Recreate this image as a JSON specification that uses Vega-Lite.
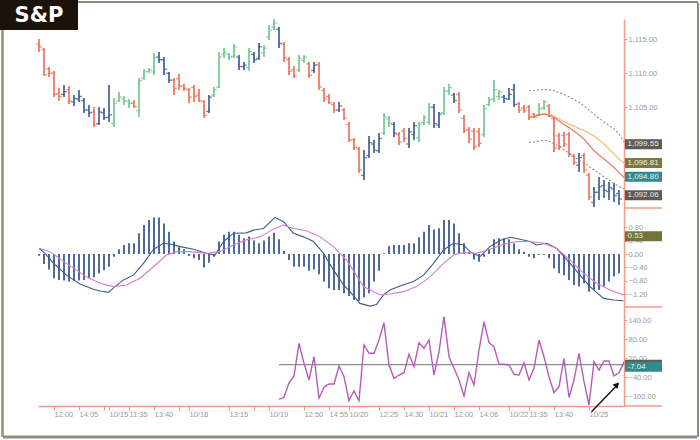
{
"$schema":"https://vega.github.io/schema/vega-lite/v6.json",
"padding":0,
"background":"white",
"spacing":0,
"bounds":"flush",
"resolve":{"scale":{"color":"independent","strokeDash":"independent"}},
"config":{"view":{"stroke":null},"concat":{"spacing":0},
"axis":{"labelFont":"Liberation Sans","labelFontSize":7.5,"labelColor":"#9a9a9a","domainColor":"#f29a88","domainWidth":1.5,"tickColor":"#f29a88","tickSize":3,"grid":false,"labelPadding":1,"labelOverlap":false,"labelBound":false},
"text":{"font":"Liberation Sans"}},
"datasets":{
"bars":[
{"i":0,"t":"R","o":1114.3,"h":1115.04,"l":1113.13,"c":1113.9},
{"i":1,"t":"R","o":1113.5,"h":1113.72,"l":1109.6,"c":1109.8},
{"i":2,"t":"R","o":1110.6,"h":1110.93,"l":1109.46,"c":1110.0},
{"i":3,"t":"R","o":1110.0,"h":1110.34,"l":1106.52,"c":1106.9},
{"i":4,"t":"R","o":1107.0,"h":1107.84,"l":1105.93,"c":1106.6},
{"i":5,"t":"B","o":1106.9,"h":1108.28,"l":1106.52,"c":1107.3},
{"i":6,"t":"R","o":1107.6,"h":1108.13,"l":1105.49,"c":1105.9},
{"i":7,"t":"B","o":1105.8,"h":1106.81,"l":1105.19,"c":1106.3},
{"i":8,"t":"B","o":1106.2,"h":1107.54,"l":1105.78,"c":1106.6},
{"i":9,"t":"B","o":1106.0,"h":1106.37,"l":1104.16,"c":1104.6},
{"i":10,"t":"B","o":1104.6,"h":1105.34,"l":1103.57,"c":1104.2},
{"i":11,"t":"R","o":1104.3,"h":1105.04,"l":1102.1,"c":1102.4},
{"i":12,"t":"B","o":1102.6,"h":1105.04,"l":1102.4,"c":1104.3},
{"i":13,"t":"B","o":1104.2,"h":1104.9,"l":1103.13,"c":1103.5},
{"i":14,"t":"B","o":1103.5,"h":1108.28,"l":1102.84,"c":1103.9},
{"i":15,"t":"G","o":1102.6,"h":1106.37,"l":1102.1,"c":1105.6},
{"i":16,"t":"G","o":1106.0,"h":1107.25,"l":1105.78,"c":1106.5},
{"i":17,"t":"G","o":1106.2,"h":1106.66,"l":1105.34,"c":1105.9},
{"i":18,"t":"G","o":1105.9,"h":1106.22,"l":1104.9,"c":1105.6},
{"i":19,"t":"R","o":1105.6,"h":1106.07,"l":1104.9,"c":1105.1},
{"i":20,"t":"G","o":1104.5,"h":1109.31,"l":1103.57,"c":1108.9},
{"i":21,"t":"G","o":1109.3,"h":1110.63,"l":1109.02,"c":1110.2},
{"i":22,"t":"G","o":1110.3,"h":1110.78,"l":1110.05,"c":1110.5},
{"i":23,"t":"G","o":1110.2,"h":1112.99,"l":1109.75,"c":1112.3},
{"i":24,"t":"B","o":1112.4,"h":1113.13,"l":1111.52,"c":1112.0},
{"i":25,"t":"B","o":1112.0,"h":1112.4,"l":1109.75,"c":1110.6},
{"i":26,"t":"B","o":1110.0,"h":1110.19,"l":1108.57,"c":1109.0},
{"i":27,"t":"R","o":1109.0,"h":1109.31,"l":1106.81,"c":1107.8},
{"i":28,"t":"R","o":1109.2,"h":1109.9,"l":1107.54,"c":1108.1},
{"i":29,"t":"R","o":1108.1,"h":1108.43,"l":1107.4,"c":1107.8},
{"i":30,"t":"R","o":1107.6,"h":1107.84,"l":1105.63,"c":1106.5},
{"i":31,"t":"R","o":1107.9,"h":1108.28,"l":1105.78,"c":1106.6},
{"i":32,"t":"R","o":1106.8,"h":1107.69,"l":1105.78,"c":1106.0},
{"i":33,"t":"R","o":1105.8,"h":1106.07,"l":1103.43,"c":1103.8},
{"i":34,"t":"B","o":1104.4,"h":1106.81,"l":1104.16,"c":1106.5},
{"i":35,"t":"G","o":1106.8,"h":1107.99,"l":1106.52,"c":1107.6},
{"i":36,"t":"G","o":1108.0,"h":1113.13,"l":1107.84,"c":1112.4},
{"i":37,"t":"G","o":1112.8,"h":1113.72,"l":1112.25,"c":1113.1},
{"i":38,"t":"G","o":1112.8,"h":1112.99,"l":1111.96,"c":1112.4},
{"i":39,"t":"G","o":1112.5,"h":1114.31,"l":1112.25,"c":1113.9},
{"i":40,"t":"B","o":1112.4,"h":1112.69,"l":1110.49,"c":1111.0},
{"i":41,"t":"B","o":1111.0,"h":1111.66,"l":1110.49,"c":1111.2},
{"i":42,"t":"G","o":1110.8,"h":1113.72,"l":1110.34,"c":1113.2},
{"i":43,"t":"B","o":1112.8,"h":1113.13,"l":1111.52,"c":1112.0},
{"i":44,"t":"B","o":1112.2,"h":1114.46,"l":1111.96,"c":1113.9},
{"i":45,"t":"G","o":1113.0,"h":1114.16,"l":1112.4,"c":1113.7},
{"i":46,"t":"G","o":1115.4,"h":1117.1,"l":1114.9,"c":1116.4},
{"i":47,"t":"G","o":1116.8,"h":1117.99,"l":1116.37,"c":1117.4},
{"i":48,"t":"B","o":1116.5,"h":1116.81,"l":1113.72,"c":1114.4},
{"i":49,"t":"R","o":1114.3,"h":1114.6,"l":1111.66,"c":1112.3},
{"i":50,"t":"R","o":1112.0,"h":1112.4,"l":1109.75,"c":1110.3},
{"i":51,"t":"R","o":1110.5,"h":1111.07,"l":1109.31,"c":1109.6},
{"i":52,"t":"G","o":1110.5,"h":1112.69,"l":1110.19,"c":1112.2},
{"i":53,"t":"G","o":1111.9,"h":1112.69,"l":1111.52,"c":1112.4},
{"i":54,"t":"R","o":1111.4,"h":1111.66,"l":1109.31,"c":1109.7},
{"i":55,"t":"B","o":1110.4,"h":1111.66,"l":1110.05,"c":1111.2},
{"i":56,"t":"R","o":1111.3,"h":1111.66,"l":1107.54,"c":1108.0},
{"i":57,"t":"R","o":1107.5,"h":1107.84,"l":1105.78,"c":1106.2},
{"i":58,"t":"R","o":1106.6,"h":1106.96,"l":1105.49,"c":1105.7},
{"i":59,"t":"R","o":1105.4,"h":1105.78,"l":1104.16,"c":1104.6},
{"i":60,"t":"B","o":1104.6,"h":1105.78,"l":1104.31,"c":1105.2},
{"i":61,"t":"R","o":1104.6,"h":1104.9,"l":1103.13,"c":1103.4},
{"i":62,"t":"R","o":1102.5,"h":1102.84,"l":1099.9,"c":1100.2},
{"i":63,"t":"R","o":1100.2,"h":1100.49,"l":1098.72,"c":1099.1},
{"i":64,"t":"R","o":1098.9,"h":1099.16,"l":1095.34,"c":1095.8},
{"i":65,"t":"B","o":1095.0,"h":1098.72,"l":1094.31,"c":1097.6},
{"i":66,"t":"B","o":1097.9,"h":1100.78,"l":1097.54,"c":1099.8},
{"i":67,"t":"B","o":1099.6,"h":1100.19,"l":1098.28,"c":1098.7},
{"i":68,"t":"B","o":1098.6,"h":1101.22,"l":1098.28,"c":1100.4},
{"i":69,"t":"G","o":1101.2,"h":1104.16,"l":1100.93,"c":1103.6},
{"i":70,"t":"G","o":1103.3,"h":1103.72,"l":1102.1,"c":1102.7},
{"i":71,"t":"B","o":1102.5,"h":1102.84,"l":1100.63,"c":1101.2},
{"i":72,"t":"R","o":1101.0,"h":1101.37,"l":1099.46,"c":1099.9},
{"i":73,"t":"R","o":1101.5,"h":1101.96,"l":1099.9,"c":1100.4},
{"i":74,"t":"B","o":1099.6,"h":1101.96,"l":1099.02,"c":1101.4},
{"i":75,"t":"B","o":1101.0,"h":1102.84,"l":1100.19,"c":1102.3},
{"i":76,"t":"G","o":1100.5,"h":1102.84,"l":1099.9,"c":1102.5},
{"i":77,"t":"G","o":1102.8,"h":1103.87,"l":1102.4,"c":1103.5},
{"i":78,"t":"G","o":1102.8,"h":1105.63,"l":1102.4,"c":1105.0},
{"i":79,"t":"B","o":1105.0,"h":1105.49,"l":1101.96,"c":1102.6},
{"i":80,"t":"B","o":1102.4,"h":1104.31,"l":1101.96,"c":1104.0},
{"i":81,"t":"G","o":1104.2,"h":1107.99,"l":1103.87,"c":1107.4},
{"i":82,"t":"G","o":1107.4,"h":1108.43,"l":1106.81,"c":1107.9},
{"i":83,"t":"B","o":1106.8,"h":1107.1,"l":1105.63,"c":1106.0},
{"i":84,"t":"R","o":1106.9,"h":1107.25,"l":1104.16,"c":1104.6},
{"i":85,"t":"R","o":1103.4,"h":1103.87,"l":1101.22,"c":1101.6},
{"i":86,"t":"R","o":1101.7,"h":1102.1,"l":1099.75,"c":1100.3},
{"i":87,"t":"R","o":1101.5,"h":1101.96,"l":1098.72,"c":1099.2},
{"i":88,"t":"R","o":1101.4,"h":1101.96,"l":1099.16,"c":1099.7},
{"i":89,"t":"G","o":1101.0,"h":1105.34,"l":1100.63,"c":1104.8},
{"i":90,"t":"G","o":1105.4,"h":1106.52,"l":1105.19,"c":1106.1},
{"i":91,"t":"G","o":1106.2,"h":1109.02,"l":1105.78,"c":1107.6},
{"i":92,"t":"G","o":1106.6,"h":1107.54,"l":1106.07,"c":1107.2},
{"i":93,"t":"B","o":1106.5,"h":1106.81,"l":1105.63,"c":1106.3},
{"i":94,"t":"B","o":1106.2,"h":1107.84,"l":1106.07,"c":1106.9},
{"i":95,"t":"B","o":1107.6,"h":1108.43,"l":1105.04,"c":1105.4},
{"i":96,"t":"R","o":1105.5,"h":1105.78,"l":1104.16,"c":1104.6},
{"i":97,"t":"R","o":1104.9,"h":1105.34,"l":1104.16,"c":1104.5},
{"i":98,"t":"R","o":1105.0,"h":1105.34,"l":1103.13,"c":1103.6},
{"i":99,"t":"R","o":1104.0,"h":1104.16,"l":1103.43,"c":1103.6},
{"i":100,"t":"G","o":1103.9,"h":1105.63,"l":1103.72,"c":1104.8},
{"i":101,"t":"G","o":1104.9,"h":1106.07,"l":1104.6,"c":1105.8},
{"i":102,"t":"R","o":1105.2,"h":1105.49,"l":1103.57,"c":1103.9},
{"i":103,"t":"R","o":1103.3,"h":1103.57,"l":1098.43,"c":1099.0},
{"i":104,"t":"R","o":1100.8,"h":1101.22,"l":1098.72,"c":1099.2},
{"i":105,"t":"R","o":1100.9,"h":1101.37,"l":1099.16,"c":1099.6},
{"i":106,"t":"R","o":1101.0,"h":1101.37,"l":1097.69,"c":1098.1},
{"i":107,"t":"R","o":1097.8,"h":1098.13,"l":1096.52,"c":1096.9},
{"i":108,"t":"B","o":1096.5,"h":1098.28,"l":1095.49,"c":1097.6},
{"i":109,"t":"R","o":1097.9,"h":1098.28,"l":1095.34,"c":1095.8},
{"i":110,"t":"R","o":1095.0,"h":1095.34,"l":1091.37,"c":1091.8},
{"i":111,"t":"B","o":1091.0,"h":1093.28,"l":1090.34,"c":1092.5},
{"i":112,"t":"B","o":1092.5,"h":1094.75,"l":1091.37,"c":1093.3},
{"i":113,"t":"B","o":1093.5,"h":1094.31,"l":1091.66,"c":1092.8},
{"i":114,"t":"B","o":1092.6,"h":1094.02,"l":1091.37,"c":1093.2},
{"i":115,"t":"B","o":1093.0,"h":1093.87,"l":1091.07,"c":1092.0},
{"i":116,"t":"B","o":1092.3,"h":1092.84,"l":1090.63,"c":1091.5}
],
"ma":[
{"i":98,"s":"up","v":1107.4},{"i":99,"s":"up","v":1107.47},{"i":100,"s":"up","v":1107.54},{"i":101,"s":"up","v":1107.65},{"i":102,"s":"up","v":1107.57},{"i":103,"s":"up","v":1107.44},{"i":104,"s":"up","v":1107.18},{"i":105,"s":"up","v":1106.88},{"i":106,"s":"up","v":1106.56},{"i":107,"s":"up","v":1106.15},{"i":108,"s":"up","v":1105.71},{"i":109,"s":"up","v":1105.19},{"i":110,"s":"up","v":1104.6},{"i":111,"s":"up","v":1104.02},{"i":112,"s":"up","v":1103.38},{"i":113,"s":"up","v":1102.84},{"i":114,"s":"up","v":1102.32},{"i":115,"s":"up","v":1101.81},{"i":116,"s":"up","v":1101.1},{"i":117,"s":"up","v":1099.9},
{"i":98,"s":"lo","v":1099.82},{"i":99,"s":"lo","v":1099.9},{"i":100,"s":"lo","v":1100.05},{"i":101,"s":"lo","v":1100.19},{"i":102,"s":"lo","v":1099.97},{"i":103,"s":"lo","v":1099.68},{"i":104,"s":"lo","v":1099.24},{"i":105,"s":"lo","v":1098.72},{"i":106,"s":"lo","v":1098.28},{"i":107,"s":"lo","v":1097.76},{"i":108,"s":"lo","v":1097.25},{"i":109,"s":"lo","v":1096.81},{"i":110,"s":"lo","v":1096.29},{"i":111,"s":"lo","v":1095.78},{"i":112,"s":"lo","v":1095.27},{"i":113,"s":"lo","v":1094.75},{"i":114,"s":"lo","v":1094.31},{"i":115,"s":"lo","v":1093.79},{"i":116,"s":"lo","v":1093.35},{"i":117,"s":"lo","v":1093.0},
{"i":98,"s":"y","v":1103.57},{"i":99,"s":"y","v":1103.72},{"i":100,"s":"y","v":1103.94},{"i":101,"s":"y","v":1104.09},{"i":102,"s":"y","v":1103.94},{"i":103,"s":"y","v":1103.72},{"i":104,"s":"y","v":1103.28},{"i":105,"s":"y","v":1102.88},{"i":106,"s":"y","v":1102.54},{"i":107,"s":"y","v":1102.21},{"i":108,"s":"y","v":1101.88},{"i":109,"s":"y","v":1101.59},{"i":110,"s":"y","v":1101.22},{"i":111,"s":"y","v":1100.78},{"i":112,"s":"y","v":1100.19},{"i":113,"s":"y","v":1099.6},{"i":114,"s":"y","v":1098.87},{"i":115,"s":"y","v":1098.13},{"i":116,"s":"y","v":1097.4},{"i":117,"s":"y","v":1096.77},
{"i":98,"s":"r","v":1103.5},{"i":99,"s":"r","v":1103.65},{"i":100,"s":"r","v":1103.87},{"i":101,"s":"r","v":1104.02},{"i":102,"s":"r","v":1103.79},{"i":103,"s":"r","v":1103.5},{"i":104,"s":"r","v":1102.99},{"i":105,"s":"r","v":1102.47},{"i":106,"s":"r","v":1102.03},{"i":107,"s":"r","v":1101.52},{"i":108,"s":"r","v":1100.93},{"i":109,"s":"r","v":1100.34},{"i":110,"s":"r","v":1099.46},{"i":111,"s":"r","v":1098.65},{"i":112,"s":"r","v":1097.99},{"i":113,"s":"r","v":1097.4},{"i":114,"s":"r","v":1096.81},{"i":115,"s":"r","v":1096.15},{"i":116,"s":"r","v":1095.41},{"i":117,"s":"r","v":1094.68}
],
"tags":[
{"n":"up","v":1099.55,"lab":"1,099.55"},
{"n":"y","v":1096.81,"lab":"1,096.81"},
{"n":"r","v":1094.8,"lab":"1,094.80"},
{"n":"lo","v":1092.06,"lab":"1,092.06"}
],
"hist":[
{"i":0,"h":-0.05},{"i":1,"h":-0.3},{"i":2,"h":-0.46},{"i":3,"h":-0.72},{"i":4,"h":-0.77},{"i":5,"h":-0.79},{"i":6,"h":-0.82},{"i":7,"h":-0.8},{"i":8,"h":-0.79},{"i":9,"h":-0.77},{"i":10,"h":-0.72},{"i":11,"h":-0.69},{"i":12,"h":-0.57},{"i":13,"h":-0.48},{"i":14,"h":-0.38},{"i":15,"h":-0.08},{"i":16,"h":0.14},{"i":17,"h":0.27},{"i":18,"h":0.32},{"i":19,"h":0.32},{"i":20,"h":0.62},{"i":21,"h":0.86},{"i":22,"h":1.01},{"i":23,"h":1.09},{"i":24,"h":1.09},{"i":25,"h":0.91},{"i":26,"h":0.66},{"i":27,"h":0.37},{"i":28,"h":0.2},{"i":29,"h":0.14},{"i":30,"h":-0.06},{"i":31,"h":-0.13},{"i":32,"h":-0.18},{"i":33,"h":-0.4},{"i":34,"h":-0.26},{"i":35,"h":-0.08},{"i":36,"h":0.37},{"i":37,"h":0.57},{"i":38,"h":0.66},{"i":39,"h":0.66},{"i":40,"h":0.57},{"i":41,"h":0.47},{"i":42,"h":0.52},{"i":43,"h":0.4},{"i":44,"h":0.32},{"i":45,"h":0.4},{"i":46,"h":0.52},{"i":47,"h":0.63},{"i":48,"h":0.44},{"i":49,"h":0.1},{"i":50,"h":-0.18},{"i":51,"h":-0.38},{"i":52,"h":-0.38},{"i":53,"h":-0.38},{"i":54,"h":-0.5},{"i":55,"h":-0.46},{"i":56,"h":-0.6},{"i":57,"h":-0.82},{"i":58,"h":-1.02},{"i":59,"h":-1.07},{"i":60,"h":-1.07},{"i":61,"h":-1.17},{"i":62,"h":-1.25},{"i":63,"h":-1.37},{"i":64,"h":-1.39},{"i":65,"h":-1.29},{"i":66,"h":-1.17},{"i":67,"h":-0.82},{"i":68,"h":-0.5},{"i":69,"h":0.02},{"i":70,"h":0.24},{"i":71,"h":0.27},{"i":72,"h":0.27},{"i":73,"h":0.27},{"i":74,"h":0.32},{"i":75,"h":0.32},{"i":76,"h":0.5},{"i":77,"h":0.66},{"i":78,"h":0.86},{"i":79,"h":0.73},{"i":80,"h":0.77},{"i":81,"h":1.01},{"i":82,"h":1.01},{"i":83,"h":0.91},{"i":84,"h":0.62},{"i":85,"h":0.32},{"i":86,"h":0.07},{"i":87,"h":-0.16},{"i":88,"h":-0.23},{"i":89,"h":-0.08},{"i":90,"h":0.14},{"i":91,"h":0.44},{"i":92,"h":0.47},{"i":93,"h":0.47},{"i":94,"h":0.44},{"i":95,"h":0.32},{"i":96,"h":0.14},{"i":97,"h":0.07},{"i":98,"h":-0.08},{"i":99,"h":-0.13},{"i":100,"h":-0.03},{"i":101,"h":-0.03},{"i":102,"h":-0.13},{"i":103,"h":-0.43},{"i":104,"h":-0.57},{"i":105,"h":-0.63},{"i":106,"h":-0.77},{"i":107,"h":-0.92},{"i":108,"h":-0.97},{"i":109,"h":-0.87},{"i":110,"h":-1.12},{"i":111,"h":-1.07},{"i":112,"h":-1.07},{"i":113,"h":-0.95},{"i":114,"h":-0.82},{"i":115,"h":-0.67},{"i":116,"h":-0.57}
],
"macdl":[
{"i":0,"s":"m","v":0.17},{"i":1.2,"s":"m","v":0.02},{"i":2.9,"s":"m","v":-0.28},{"i":5.5,"s":"m","v":-0.63},{"i":8.2,"s":"m","v":-0.89},{"i":10.9,"s":"m","v":-1.05},{"i":12.2,"s":"m","v":-1.1},{"i":13.9,"s":"m","v":-1.14},{"i":15.2,"s":"m","v":-0.97},{"i":16.9,"s":"m","v":-0.77},{"i":18.9,"s":"m","v":-0.63},{"i":20.9,"s":"m","v":-0.28},{"i":22.9,"s":"m","v":0.14},{"i":24.9,"s":"m","v":0.32},{"i":26.5,"s":"m","v":0.29},{"i":28.2,"s":"m","v":0.22},{"i":30.9,"s":"m","v":0.14},{"i":33.5,"s":"m","v":0.02},{"i":35.2,"s":"m","v":-0.03},{"i":36.9,"s":"m","v":0.37},{"i":38.9,"s":"m","v":0.62},{"i":41.5,"s":"m","v":0.63},{"i":42.9,"s":"m","v":0.71},{"i":44.9,"s":"m","v":0.76},{"i":47.2,"s":"m","v":1.09},{"i":48.9,"s":"m","v":0.96},{"i":50.9,"s":"m","v":0.62},{"i":52.9,"s":"m","v":0.51},{"i":54.9,"s":"m","v":0.37},{"i":56.9,"s":"m","v":0.02},{"i":58.9,"s":"m","v":-0.48},{"i":60.9,"s":"m","v":-0.92},{"i":62.2,"s":"m","v":-1.12},{"i":64.2,"s":"m","v":-1.47},{"i":66.2,"s":"m","v":-1.55},{"i":67.5,"s":"m","v":-1.5},{"i":68.9,"s":"m","v":-1.22},{"i":70.2,"s":"m","v":-1.07},{"i":72.2,"s":"m","v":-0.95},{"i":74.9,"s":"m","v":-0.82},{"i":76.9,"s":"m","v":-0.63},{"i":78.9,"s":"m","v":-0.28},{"i":80.9,"s":"m","v":0.12},{"i":82.9,"s":"m","v":0.32},{"i":84.9,"s":"m","v":0.27},{"i":86.2,"s":"m","v":0.07},{"i":88.2,"s":"m","v":-0.08},{"i":90.2,"s":"m","v":0.22},{"i":92.2,"s":"m","v":0.4},{"i":94.2,"s":"m","v":0.5},{"i":96.2,"s":"m","v":0.44},{"i":98.2,"s":"m","v":0.37},{"i":99.5,"s":"m","v":0.27},{"i":101.5,"s":"m","v":0.32},{"i":103.5,"s":"m","v":0.17},{"i":106.2,"s":"m","v":-0.28},{"i":108.2,"s":"m","v":-0.63},{"i":110.2,"s":"m","v":-0.97},{"i":112.9,"s":"m","v":-1.32},{"i":114.9,"s":"m","v":-1.37},{"i":116.9,"s":"m","v":-1.39},
{"i":0,"s":"s","v":0.17},{"i":2.2,"s":"s","v":0.07},{"i":5.5,"s":"s","v":-0.28},{"i":9.5,"s":"s","v":-0.68},{"i":12.2,"s":"s","v":-0.87},{"i":14.9,"s":"s","v":-0.97},{"i":17.5,"s":"s","v":-0.92},{"i":20.2,"s":"s","v":-0.72},{"i":22.9,"s":"s","v":-0.38},{"i":25.5,"s":"s","v":-0.03},{"i":27.5,"s":"s","v":0.07},{"i":30.2,"s":"s","v":0.07},{"i":33.5,"s":"s","v":0.02},{"i":36.2,"s":"s","v":0.07},{"i":38.9,"s":"s","v":0.27},{"i":41.5,"s":"s","v":0.42},{"i":44.2,"s":"s","v":0.51},{"i":46.9,"s":"s","v":0.74},{"i":48.9,"s":"s","v":0.86},{"i":50.9,"s":"s","v":0.76},{"i":53.5,"s":"s","v":0.69},{"i":56.2,"s":"s","v":0.51},{"i":58.9,"s":"s","v":0.22},{"i":61.5,"s":"s","v":-0.18},{"i":62.2,"s":"s","v":-0.33},{"i":64.9,"s":"s","v":-0.97},{"i":68.2,"s":"s","v":-1.22},{"i":70.2,"s":"s","v":-1.19},{"i":72.9,"s":"s","v":-1.12},{"i":75.5,"s":"s","v":-0.97},{"i":78.2,"s":"s","v":-0.68},{"i":80.9,"s":"s","v":-0.28},{"i":82.9,"s":"s","v":-0.03},{"i":84.9,"s":"s","v":0.04},{"i":87.5,"s":"s","v":0.02},{"i":90.2,"s":"s","v":0.14},{"i":92.9,"s":"s","v":0.29},{"i":95.5,"s":"s","v":0.37},{"i":98.2,"s":"s","v":0.37},{"i":100.9,"s":"s","v":0.32},{"i":103.5,"s":"s","v":0.17},{"i":106.2,"s":"s","v":-0.18},{"i":108.9,"s":"s","v":-0.57},{"i":111.5,"s":"s","v":-0.87},{"i":114.2,"s":"s","v":-1.07},{"i":116.9,"s":"s","v":-1.22}
],
"cci":[
{"i":48,"v":-109.5},{"i":49,"v":-103.2},{"i":50,"v":-57.1},{"i":51,"v":-35.9},{"i":52,"v":67.4},{"i":53,"v":4.2},{"i":54,"v":-48.5},{"i":55,"v":25.1},{"i":56,"v":-106.3},{"i":57,"v":-71.6},{"i":58,"v":-61.2},{"i":59,"v":-61.2},{"i":60,"v":-4.3},{"i":61,"v":-38.1},{"i":62,"v":-113.9},{"i":63,"v":-82.3},{"i":64,"v":-113.9},{"i":65,"v":62},{"i":66,"v":35.8},{"i":67,"v":35.8},{"i":68,"v":77.8},{"i":69,"v":132.4},{"i":70,"v":-1.2},{"i":71,"v":-43.2},{"i":72,"v":-32.7},{"i":73,"v":-25.5},{"i":74,"v":32.6},{"i":75,"v":-6.5},{"i":76,"v":69.3},{"i":77,"v":51.6},{"i":78,"v":77.8},{"i":79,"v":-32.7},{"i":80,"v":40.8},{"i":81,"v":151.4},{"i":82,"v":25.1},{"i":83,"v":-11.6},{"i":84,"v":-48.5},{"i":85,"v":-99.1},{"i":86,"v":-25.5},{"i":87,"v":-64.3},{"i":88,"v":46.2},{"i":89,"v":135.6},{"i":90,"v":69.3},{"i":91,"v":56.6},{"i":92,"v":1.1},{"i":93,"v":1.1},{"i":94,"v":-1.2},{"i":95,"v":-30.5},{"i":96,"v":-32.7},{"i":97,"v":6.1},{"i":98,"v":-48.5},{"i":99,"v":-11.6},{"i":100,"v":77.8},{"i":101,"v":25.1},{"i":102,"v":-38.1},{"i":103,"v":-88.6},{"i":104,"v":-69.7},{"i":105,"v":20},{"i":106,"v":-103.2},{"i":107,"v":-48.5},{"i":108,"v":35.8},{"i":109,"v":-53.9},{"i":110,"v":-127.5},{"i":111,"v":9.3},{"i":112,"v":-16.9},{"i":113,"v":11.5},{"i":114,"v":11.5},{"i":115,"v":-35.9},{"i":116,"v":-25.5},{"i":117,"v":8}
],
"logo":[{"name":"S&P"}],
"ctags":[{"n":"z","v":0,"lab":"0.00"},{"n":"c","v":-7.04,"lab":"-7.04"}],
"mtags":[{"n":"m","v":0.53,"lab":"0.53"}]
},
"vconcat":[
{
"width":586,"height":189,
"resolve":{"scale":{"color":"independent"}},
"layer":[
{"data":{"name":"bars"},"mark":{"type":"rule","strokeWidth":1.6},
"encoding":{
"x":{"field":"i","type":"quantitative","scale":{"domain":[-0.2,117],"nice":false,"zero":false},"axis":null},
"y":{"field":"l","type":"quantitative","scale":{"domain":[1090.19,1117.99],"nice":false,"zero":false},"axis":{"orient":"right","values":[1100,1105,1110,1115],"format":",.2f","title":null,"labelOverlap":false}},
"y2":{"field":"h"},
"color":{"field":"t","type":"nominal","scale":{"domain":["R","B","G"],"range":["#ec6a55","#34578c","#6cc38c"]},"legend":null}}},
{"data":{"name":"bars"},"mark":{"type":"tick","orient":"horizontal","size":3,"thickness":1.3,"xOffset":-1.5},
"encoding":{
"x":{"field":"i","type":"quantitative","scale":{"domain":[-0.2,117],"nice":false,"zero":false},"axis":null},
"y":{"field":"o","type":"quantitative","scale":{"domain":[1090.19,1117.99],"nice":false,"zero":false},"axis":{"orient":"right","values":[1100,1105,1110,1115],"format":",.2f","title":null,"labelOverlap":false}},
"color":{"field":"t","type":"nominal","scale":{"domain":["R","B","G"],"range":["#ec6a55","#34578c","#6cc38c"]},"legend":null}}},
{"data":{"name":"bars"},"mark":{"type":"tick","orient":"horizontal","size":3,"thickness":1.3,"xOffset":1.5},
"encoding":{
"x":{"field":"i","type":"quantitative","scale":{"domain":[-0.2,117],"nice":false,"zero":false},"axis":null},
"y":{"field":"c","type":"quantitative","scale":{"domain":[1090.19,1117.99],"nice":false,"zero":false},"axis":{"orient":"right","values":[1100,1105,1110,1115],"format":",.2f","title":null,"labelOverlap":false}},
"color":{"field":"t","type":"nominal","scale":{"domain":["R","B","G"],"range":["#ec6a55","#34578c","#6cc38c"]},"legend":null}}},
{"data":{"name":"ma"},"mark":{"type":"line","strokeWidth":1.1},
"encoding":{
"x":{"field":"i","type":"quantitative","scale":{"domain":[-0.2,117],"nice":false,"zero":false},"axis":null},
"y":{"field":"v","type":"quantitative","scale":{"domain":[1090.19,1117.99],"nice":false,"zero":false},"axis":{"orient":"right","values":[1100,1105,1110,1115],"format":",.2f","title":null,"labelOverlap":false}},
"color":{"field":"s","type":"nominal","scale":{"domain":["up","lo","y","r"],"range":["#8a8a8a","#8a8a8a","#f5b466","#e96b5a"]},"legend":null},
"strokeDash":{"field":"s","type":"nominal","scale":{"domain":["up","lo","y","r"],"range":[[2,2],[2,2],[1,0],[1,0]]},"legend":null}}},
{"data":{"name":"tags"},"mark":{"type":"rule","strokeWidth":10},
"encoding":{
"x":{"datum":117.2,"type":"quantitative","scale":{"domain":[-0.2,117],"nice":false,"zero":false},"axis":null},
"x2":{"datum":124.6},
"y":{"field":"v","type":"quantitative","scale":{"domain":[1090.19,1117.99],"nice":false,"zero":false},"axis":{"orient":"right","values":[1100,1105,1110,1115],"format":",.2f","title":null,"labelOverlap":false}},
"color":{"field":"n","type":"nominal","scale":{"domain":["up","lo","y","r"],"range":["#5e5a56","#5e5a56","#7b7a3c","#2f8b8d"]},"legend":null}}},
{"data":{"name":"tags"},"mark":{"type":"text","align":"left","baseline":"middle","dx":2.5,"fontSize":8,"color":"#eeeeea"},
"encoding":{
"x":{"datum":117.2,"type":"quantitative","scale":{"domain":[-0.2,117],"nice":false,"zero":false},"axis":null},
"y":{"field":"v","type":"quantitative","scale":{"domain":[1090.19,1117.99],"nice":false,"zero":false},"axis":{"orient":"right","values":[1100,1105,1110,1115],"format":",.2f","title":null,"labelOverlap":false}},
"text":{"field":"lab"}}},
{"data":{"name":"logo"},"mark":{"type":"rule","color":"#f29a88","strokeWidth":1.5},
"encoding":{
"x":{"datum":117,"type":"quantitative","scale":{"domain":[-0.2,117],"nice":false,"zero":false},"axis":null},
"x2":{"datum":124.6},
"y":{"datum":1090.19,"type":"quantitative","scale":{"domain":[1090.19,1117.99],"nice":false,"zero":false},"axis":{"orient":"right","values":[1100,1105,1110,1115],"format":",.2f","title":null,"labelOverlap":false}}}},
{"data":{"name":"logo"},"mark":{"type":"rule","color":"#8d8c7e","strokeWidth":2.5},
"encoding":{
"x":{"datum":-7.3,"type":"quantitative","scale":{"domain":[-0.2,117],"nice":false,"zero":false},"axis":null},
"y":{"datum":1116.37,"type":"quantitative","scale":{"domain":[1090.19,1117.99],"nice":false,"zero":false},"axis":{"orient":"right","values":[1100,1105,1110,1115],"format":",.2f","title":null,"labelOverlap":false}},
"y2":{"datum":1056.5}}},
{"data":{"name":"logo"},"mark":{"type":"rule","color":"#8d8c7e","strokeWidth":2},
"encoding":{
"x":{"datum":7.8,"type":"quantitative","scale":{"domain":[-0.2,117],"nice":false,"zero":false},"axis":null},
"x2":{"datum":131.8},
"y":{"datum":1120.49,"type":"quantitative","scale":{"domain":[1090.19,1117.99],"nice":false,"zero":false},"axis":{"orient":"right","values":[1100,1105,1110,1115],"format":",.2f","title":null,"labelOverlap":false}}}},
{"data":{"name":"logo"},"mark":{"type":"rule","color":"#8d8c7e","strokeWidth":2},
"encoding":{
"x":{"datum":131.8,"type":"quantitative","scale":{"domain":[-0.2,117],"nice":false,"zero":false},"axis":null},
"y":{"datum":1120.34,"type":"quantitative","scale":{"domain":[1090.19,1117.99],"nice":false,"zero":false},"axis":{"orient":"right","values":[1100,1105,1110,1115],"format":",.2f","title":null,"labelOverlap":false}},
"y2":{"datum":1056.5}}},
{"data":{"name":"logo"},"mark":{"type":"rule","color":"#8d8c7e","strokeWidth":3},
"encoding":{
"x":{"datum":-7.2,"type":"quantitative","scale":{"domain":[-0.2,117],"nice":false,"zero":false},"axis":null},
"x2":{"datum":131.6},
"y":{"datum":1056.5,"type":"quantitative","scale":{"domain":[1090.19,1117.99],"nice":false,"zero":false},"axis":{"orient":"right","values":[1100,1105,1110,1115],"format":",.2f","title":null,"labelOverlap":false}}}},
{"data":{"name":"logo"},"mark":{"type":"rect","color":"#1b120c"},
"encoding":{
"x":{"datum":-7.8,"type":"quantitative","scale":{"domain":[-0.2,117],"nice":false,"zero":false},"axis":null},
"x2":{"datum":7.8},
"y":{"datum":1120.78,"type":"quantitative","scale":{"domain":[1090.19,1117.99],"nice":false,"zero":false},"axis":{"orient":"right","values":[1100,1105,1110,1115],"format":",.2f","title":null,"labelOverlap":false}},
"y2":{"datum":1116.37}}},
{"data":{"name":"logo"},"mark":{"type":"text","font":"DejaVu Sans","fontWeight":"bold","fontSize":21,"color":"white","align":"center","baseline":"middle"},
"encoding":{
"x":{"datum":0,"type":"quantitative","scale":{"domain":[-0.2,117],"nice":false,"zero":false},"axis":null},
"y":{"datum":1118.5,"type":"quantitative","scale":{"domain":[1090.19,1117.99],"nice":false,"zero":false},"axis":{"orient":"right","values":[1100,1105,1110,1115],"format":",.2f","title":null,"labelOverlap":false}},
"text":{"field":"name"}}}
]
},
{
"width":586,"height":99,
"layer":[
{"data":{"name":"hist"},"mark":{"type":"rule","strokeWidth":1.8,"color":"#3b5a8e"},
"encoding":{
"x":{"field":"i","type":"quantitative","scale":{"domain":[-0.2,117],"nice":false,"zero":false},"axis":null},
"y":{"field":"h","type":"quantitative","scale":{"domain":[-1.577,1.369],"nice":false,"zero":false},"axis":{"orient":"right","values":[0.8,0.4,0,-0.4,-0.8,-1.2],"format":".2f","title":null,"labelOverlap":false}},
"y2":{"datum":0}}},
{"data":{"name":"macdl"},"mark":{"type":"line","strokeWidth":1.1},
"encoding":{
"x":{"field":"i","type":"quantitative","scale":{"domain":[-0.2,117],"nice":false,"zero":false},"axis":null},
"y":{"field":"v","type":"quantitative","scale":{"domain":[-1.577,1.369],"nice":false,"zero":false},"axis":{"orient":"right","values":[0.8,0.4,0,-0.4,-0.8,-1.2],"format":".2f","title":null,"labelOverlap":false}},
"color":{"field":"s","type":"nominal","scale":{"domain":["m","s"],"range":["#3d5a92","#d47cd0"]},"legend":null}}},
{"data":{"name":"mtags"},"mark":{"type":"rule","strokeWidth":10,"color":"#737339"},
"encoding":{
"x":{"datum":117.2,"type":"quantitative","scale":{"domain":[-0.2,117],"nice":false,"zero":false},"axis":null},
"x2":{"datum":124.6},
"y":{"field":"v","type":"quantitative","scale":{"domain":[-1.577,1.369],"nice":false,"zero":false},"axis":{"orient":"right","values":[0.8,0.4,0,-0.4,-0.8,-1.2],"format":".2f","title":null,"labelOverlap":false}}}},
{"data":{"name":"mtags"},"mark":{"type":"text","align":"left","baseline":"middle","dx":2.5,"fontSize":8,"color":"#eeeedc"},
"encoding":{
"x":{"datum":117.2,"type":"quantitative","scale":{"domain":[-0.2,117],"nice":false,"zero":false},"axis":null},
"y":{"field":"v","type":"quantitative","scale":{"domain":[-1.577,1.369],"nice":false,"zero":false},"axis":{"orient":"right","values":[0.8,0.4,0,-0.4,-0.8,-1.2],"format":".2f","title":null,"labelOverlap":false}},
"text":{"field":"lab"}}},
{"data":{"name":"logo"},"mark":{"type":"rule","color":"#f29a88","strokeWidth":1.5},
"encoding":{
"x":{"datum":117,"type":"quantitative","scale":{"domain":[-0.2,117],"nice":false,"zero":false},"axis":null},
"x2":{"datum":124.6},
"y":{"datum":-1.577,"type":"quantitative","scale":{"domain":[-1.577,1.369],"nice":false,"zero":false},"axis":{"orient":"right","values":[0.8,0.4,0,-0.4,-0.8,-1.2],"format":".2f","title":null,"labelOverlap":false}}}}
]
},
{
"width":586,"height":99,
"layer":[
{"data":{"name":"logo"},"mark":{"type":"rule","color":"#8c8c8c","strokeWidth":1.3},
"encoding":{
"x":{"datum":48,"type":"quantitative","scale":{"domain":[-0.2,117],"nice":false,"zero":false},"axis":{"orient":"bottom","title":null,"values":[3,8,13,14,18,23,28,30,38,43,46,53,58,62,68,73,78,83,88,94,98,103,110],"labelExpr":"datum.value==3?'12:00':datum.value==8?'14:05':datum.value==14?'10/15':datum.value==18?'11:35':datum.value==23?'13:40':datum.value==30?'10/18':datum.value==38?'13:15':datum.value==46?'10/19':datum.value==53?'12:50':datum.value==58?'14:55':datum.value==62?'10/20':datum.value==68?'12:25':datum.value==73?'14:30':datum.value==78?'10/21':datum.value==83?'12:00':datum.value==88?'14:06':datum.value==94?'10/22':datum.value==98?'11:35':datum.value==103?'13:40':datum.value==110?'10/25':''","labelAlign":"left","labelFlush":false,"labelOverlap":false,"tickSize":4,"labelPadding":0}},
"x2":{"datum":117},
"y":{"datum":0,"type":"quantitative","scale":{"domain":[-130.6,182],"nice":false,"zero":false},"axis":{"orient":"right","values":[140,80,20,-40,-100],"format":".2f","title":null,"labelOverlap":false}}}},
{"data":{"name":"cci"},"mark":{"type":"line","strokeWidth":1.4,"color":"#b65cb8"},
"encoding":{
"x":{"field":"i","type":"quantitative","scale":{"domain":[-0.2,117],"nice":false,"zero":false},"axis":{"orient":"bottom","title":null,"values":[3,8,13,14,18,23,28,30,38,43,46,53,58,62,68,73,78,83,88,94,98,103,110],"labelExpr":"datum.value==3?'12:00':datum.value==8?'14:05':datum.value==14?'10/15':datum.value==18?'11:35':datum.value==23?'13:40':datum.value==30?'10/18':datum.value==38?'13:15':datum.value==46?'10/19':datum.value==53?'12:50':datum.value==58?'14:55':datum.value==62?'10/20':datum.value==68?'12:25':datum.value==73?'14:30':datum.value==78?'10/21':datum.value==83?'12:00':datum.value==88?'14:06':datum.value==94?'10/22':datum.value==98?'11:35':datum.value==103?'13:40':datum.value==110?'10/25':''","labelAlign":"left","labelFlush":false,"labelOverlap":false,"tickSize":4,"labelPadding":0}},
"y":{"field":"v","type":"quantitative","scale":{"domain":[-130.6,182],"nice":false,"zero":false},"axis":{"orient":"right","values":[140,80,20,-40,-100],"format":".2f","title":null,"labelOverlap":false}}}},
{"data":{"name":"ctags"},"mark":{"type":"rule","strokeWidth":10},
"encoding":{
"x":{"datum":117.2,"type":"quantitative","scale":{"domain":[-0.2,117],"nice":false,"zero":false},"axis":{"orient":"bottom","title":null,"values":[3,8,13,14,18,23,28,30,38,43,46,53,58,62,68,73,78,83,88,94,98,103,110],"labelExpr":"datum.value==3?'12:00':datum.value==8?'14:05':datum.value==14?'10/15':datum.value==18?'11:35':datum.value==23?'13:40':datum.value==30?'10/18':datum.value==38?'13:15':datum.value==46?'10/19':datum.value==53?'12:50':datum.value==58?'14:55':datum.value==62?'10/20':datum.value==68?'12:25':datum.value==73?'14:30':datum.value==78?'10/21':datum.value==83?'12:00':datum.value==88?'14:06':datum.value==94?'10/22':datum.value==98?'11:35':datum.value==103?'13:40':datum.value==110?'10/25':''","labelAlign":"left","labelFlush":false,"labelOverlap":false,"tickSize":4,"labelPadding":0}},
"x2":{"datum":124.6},
"y":{"field":"v","type":"quantitative","scale":{"domain":[-130.6,182],"nice":false,"zero":false},"axis":{"orient":"right","values":[140,80,20,-40,-100],"format":".2f","title":null,"labelOverlap":false}},
"color":{"field":"n","type":"nominal","scale":{"domain":["z","c"],"range":["#5e5a56","#2f8b8d"]},"legend":null}}},
{"data":{"name":"ctags"},"transform":[{"filter":"datum.n=='c'"}],"mark":{"type":"text","align":"left","baseline":"middle","dx":2.5,"fontSize":8,"color":"#f2f2f2"},
"encoding":{
"x":{"datum":117.2,"type":"quantitative","scale":{"domain":[-0.2,117],"nice":false,"zero":false},"axis":{"orient":"bottom","title":null,"values":[3,8,13,14,18,23,28,30,38,43,46,53,58,62,68,73,78,83,88,94,98,103,110],"labelExpr":"datum.value==3?'12:00':datum.value==8?'14:05':datum.value==14?'10/15':datum.value==18?'11:35':datum.value==23?'13:40':datum.value==30?'10/18':datum.value==38?'13:15':datum.value==46?'10/19':datum.value==53?'12:50':datum.value==58?'14:55':datum.value==62?'10/20':datum.value==68?'12:25':datum.value==73?'14:30':datum.value==78?'10/21':datum.value==83?'12:00':datum.value==88?'14:06':datum.value==94?'10/22':datum.value==98?'11:35':datum.value==103?'13:40':datum.value==110?'10/25':''","labelAlign":"left","labelFlush":false,"labelOverlap":false,"tickSize":4,"labelPadding":0}},
"y":{"field":"v","type":"quantitative","scale":{"domain":[-130.6,182],"nice":false,"zero":false},"axis":{"orient":"right","values":[140,80,20,-40,-100],"format":".2f","title":null,"labelOverlap":false}},
"text":{"field":"lab"}}},
{"data":{"name":"logo"},"mark":{"type":"rule","color":"#111111","strokeWidth":1.4},
"encoding":{
"x":{"datum":110.5,"type":"quantitative","scale":{"domain":[-0.2,117],"nice":false,"zero":false},"axis":{"orient":"bottom","title":null,"values":[3,8,13,14,18,23,28,30,38,43,46,53,58,62,68,73,78,83,88,94,98,103,110],"labelExpr":"datum.value==3?'12:00':datum.value==8?'14:05':datum.value==14?'10/15':datum.value==18?'11:35':datum.value==23?'13:40':datum.value==30?'10/18':datum.value==38?'13:15':datum.value==46?'10/19':datum.value==53?'12:50':datum.value==58?'14:55':datum.value==62?'10/20':datum.value==68?'12:25':datum.value==73?'14:30':datum.value==78?'10/21':datum.value==83?'12:00':datum.value==88?'14:06':datum.value==94?'10/22':datum.value==98?'11:35':datum.value==103?'13:40':datum.value==110?'10/25':''","labelAlign":"left","labelFlush":false,"labelOverlap":false,"tickSize":4,"labelPadding":0}},
"x2":{"datum":115.8},
"y":{"datum":-148.6,"type":"quantitative","scale":{"domain":[-130.6,182],"nice":false,"zero":false},"axis":{"orient":"right","values":[140,80,20,-40,-100],"format":".2f","title":null,"labelOverlap":false}},
"y2":{"datum":-62}}},
{"data":{"name":"logo"},"mark":{"type":"point","shape":"triangle-up","filled":true,"color":"#111111","opacity":1,"size":45,"angle":43},
"encoding":{
"x":{"datum":115.6,"type":"quantitative","scale":{"domain":[-0.2,117],"nice":false,"zero":false},"axis":{"orient":"bottom","title":null,"values":[3,8,13,14,18,23,28,30,38,43,46,53,58,62,68,73,78,83,88,94,98,103,110],"labelExpr":"datum.value==3?'12:00':datum.value==8?'14:05':datum.value==14?'10/15':datum.value==18?'11:35':datum.value==23?'13:40':datum.value==30?'10/18':datum.value==38?'13:15':datum.value==46?'10/19':datum.value==53?'12:50':datum.value==58?'14:55':datum.value==62?'10/20':datum.value==68?'12:25':datum.value==73?'14:30':datum.value==78?'10/21':datum.value==83?'12:00':datum.value==88?'14:06':datum.value==94?'10/22':datum.value==98?'11:35':datum.value==103?'13:40':datum.value==110?'10/25':''","labelAlign":"left","labelFlush":false,"labelOverlap":false,"tickSize":4,"labelPadding":0}},
"y":{"datum":-63,"type":"quantitative","scale":{"domain":[-130.6,182],"nice":false,"zero":false},"axis":{"orient":"right","values":[140,80,20,-40,-100],"format":".2f","title":null,"labelOverlap":false}}}},
{"data":{"name":"logo"},"mark":{"type":"rule","color":"#f29a88","strokeWidth":1.5},
"encoding":{
"x":{"datum":117,"type":"quantitative","scale":{"domain":[-0.2,117],"nice":false,"zero":false},"axis":{"orient":"bottom","title":null,"values":[3,8,13,14,18,23,28,30,38,43,46,53,58,62,68,73,78,83,88,94,98,103,110],"labelExpr":"datum.value==3?'12:00':datum.value==8?'14:05':datum.value==14?'10/15':datum.value==18?'11:35':datum.value==23?'13:40':datum.value==30?'10/18':datum.value==38?'13:15':datum.value==46?'10/19':datum.value==53?'12:50':datum.value==58?'14:55':datum.value==62?'10/20':datum.value==68?'12:25':datum.value==73?'14:30':datum.value==78?'10/21':datum.value==83?'12:00':datum.value==88?'14:06':datum.value==94?'10/22':datum.value==98?'11:35':datum.value==103?'13:40':datum.value==110?'10/25':''","labelAlign":"left","labelFlush":false,"labelOverlap":false,"tickSize":4,"labelPadding":0}},
"x2":{"datum":124.6},
"y":{"datum":-130.6,"type":"quantitative","scale":{"domain":[-130.6,182],"nice":false,"zero":false},"axis":{"orient":"right","values":[140,80,20,-40,-100],"format":".2f","title":null,"labelOverlap":false}}}}
]
}
]
}
